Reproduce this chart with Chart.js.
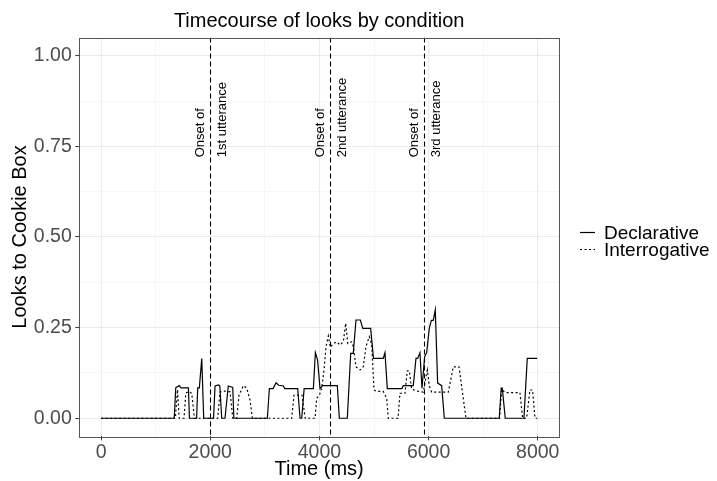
<!DOCTYPE html>
<html>
<head>
<meta charset="utf-8">
<script src="https://cdn.jsdelivr.net/npm/chart.js@4.4.1/dist/chart.umd.min.js"></script>
<style>
html, body { margin: 0; padding: 0; background: #fff; }
canvas { display: block; }
</style>
</head>
<body>
<canvas id="looksChart" width="717" height="481"></canvas>
<script>
// values
const declarativeTime = [0, 1340, 1368, 1430, 1465, 1600, 1618, 1750, 1770, 1800, 1844, 1880, 2060, 2088, 2150, 2175, 2210, 2270, 2330, 2412, 2432, 3046, 3083, 3150, 3205, 3254, 3340, 3364, 3602, 3645, 3676, 3720, 3889, 3926, 3966, 4011, 4060, 4328, 4365, 4511, 4573, 4620, 4670, 4750, 4795, 4939, 4990, 5170, 5201, 5244, 5510, 5537, 5720, 5769, 5800, 5842, 5879, 5928, 5965, 6013, 6050, 6086, 6123, 6166, 6240, 6288, 7295, 7330, 7350, 7405, 7747, 7808, 7990];
const declarativeLooks = [0, 0, 0.084, 0.09, 0.084, 0.084, 0, 0, 0.084, 0.084, 0.165, 0, 0, 0.089, 0.092, 0.089, 0, 0, 0.089, 0.085, 0, 0, 0.082, 0.082, 0.098, 0.091, 0.089, 0.082, 0.082, 0, 0, 0.082, 0.082, 0.181, 0.161, 0.082, 0.09, 0.09, 0, 0, 0.179, 0.179, 0.271, 0.271, 0.248, 0.248, 0.165, 0.165, 0.181, 0.082, 0.082, 0.09, 0.09, 0.165, 0.165, 0.181, 0.083, 0.17, 0.181, 0.248, 0.27, 0.27, 0.299, 0.097, 0.09, 0, 0, 0.083, 0.083, 0, 0, 0.165, 0.165];

const interrogativeTime = [0, 1360, 1400, 1430, 1520, 1551, 1599, 1661, 1709, 2136, 2180, 2260, 2363, 2412, 2485, 2527, 2607, 2668, 2729, 2771, 3492, 3535, 3680, 3740, 3920, 3950, 4000, 4042, 4084, 4121, 4163, 4200, 4255, 4316, 4377, 4438, 4481, 4520, 4591, 4622, 4670, 4744, 4804, 4853, 4914, 4957, 5000, 5049, 5170, 5232, 5262, 5440, 5476, 5568, 5610, 5647, 5690, 5800, 5903, 5977, 6013, 6056, 6361, 6453, 6557, 6685, 7300, 7340, 7399, 7674, 7723, 7796, 7857, 7906, 7949, 7990];
const interrogativeLooks = [0, 0, 0.079, 0, 0, 0.069, 0.074, 0.069, 0, 0, 0.073, 0.075, 0.073, 0, 0, 0.064, 0.09, 0.083, 0.05, 0, 0, 0.064, 0.064, 0, 0, 0.055, 0.064, 0.083, 0.133, 0.198, 0.227, 0.196, 0.206, 0.211, 0.202, 0.211, 0.262, 0.206, 0.211, 0.198, 0.142, 0.133, 0.142, 0.198, 0.225, 0.206, 0.078, 0.074, 0.074, 0.055, 0, 0, 0.069, 0.069, 0.131, 0.131, 0.08, 0.075, 0.072, 0.133, 0.09, 0.072, 0.072, 0.142, 0.142, 0, 0, 0.08, 0.071, 0.071, 0, 0, 0.078, 0.078, 0, 0];

const seriesNames = ['Declarative', 'Interrogative'];
const onsetTimes = [2000, 4200, 5925];
const onsetLabels = ['1st utterance', '2nd utterance', '3rd utterance'];

const xMajorTicks = [0, 2000, 4000, 6000, 8000];
const xMinorTicks = [1000, 3000, 5000, 7000];
const yMajorTicks = [0, 0.25, 0.5, 0.75, 1];
const yMinorTicks = [0.125, 0.375, 0.625, 0.875];

const FONT = '"Liberation Sans", Arial, Helvetica, sans-serif';

const toPoints = (xs, ys) => xs.map((x, i) => ({ x: x, y: ys[i] }));

// ggplot style 5% expansion of the data range
const allTimes = declarativeTime.concat(interrogativeTime);
const tMin = Math.min(...allTimes);
const tMax = Math.max(...allTimes);
const xPad = (tMax - tMin) * 0.05;
const yPad = 0.05;

const isMajor = (list, v) => list.some(m => Math.abs(m - v) < 1e-9);

const panelExtras = {
	id: 'panelExtras',
	afterDatasetsDraw(chart) {
		const { ctx, chartArea } = chart;
		const xs = chart.scales.x;
		const ys = chart.scales.y;

		// vertical onset lines
		ctx.save();
		ctx.beginPath();
		ctx.rect(chartArea.left, chartArea.top, chartArea.right - chartArea.left, chartArea.bottom - chartArea.top);
		ctx.clip();
		ctx.strokeStyle = '#000';
		ctx.lineWidth = 1.1;
		ctx.setLineDash([5, 3]);
		onsetTimes.forEach(t => {
			const px = Math.round(xs.getPixelForValue(t)) + 0.5;
			ctx.beginPath();
			ctx.moveTo(px, chartArea.top);
			ctx.lineTo(px, chartArea.bottom);
			ctx.stroke();
		});
		ctx.restore();

		// onset annotations
		ctx.save();
		ctx.fillStyle = '#000';
		ctx.font = '13px ' + FONT;
		ctx.textAlign = 'left';
		ctx.textBaseline = 'middle';
		const ty = ys.getPixelForValue(0.72);
		onsetTimes.forEach((t, i) => {
			const px = xs.getPixelForValue(t);
			[['Onset of', -10], [onsetLabels[i], 12]].forEach(([txt, dx]) => {
				ctx.save();
				ctx.translate(px + dx, ty);
				ctx.rotate(-Math.PI / 2);
				ctx.fillText(txt, 0, 0);
				ctx.restore();
			});
		});
		ctx.restore();

		// panel border
		ctx.save();
		ctx.strokeStyle = '#555';
		ctx.lineWidth = 1;
		ctx.strokeRect(Math.round(chartArea.left) + 0.5, Math.round(chartArea.top) + 0.5,
			Math.round(chartArea.right - chartArea.left), Math.round(chartArea.bottom - chartArea.top));
		ctx.restore();
	},
	afterDraw(chart) {
		const { ctx } = chart;
		const cy = chart.height / 2;
		ctx.save();
		ctx.font = '19px ' + FONT;
		ctx.textBaseline = 'middle';
		ctx.textAlign = 'left';
		chart.data.datasets.forEach((ds, i) => {
			const y = Math.round(cy - 9 + i * 17) + 0.5;
			ctx.strokeStyle = ds.borderColor;
			ctx.lineWidth = ds.borderWidth;
			ctx.setLineDash(ds.borderDash || []);
			ctx.beginPath();
			ctx.moveTo(580, y);
			ctx.lineTo(595, y);
			ctx.stroke();
			ctx.fillStyle = '#000';
			ctx.fillText(ds.label, 604, y + 1);
		});
		ctx.restore();
	}
};

const chart = new Chart(document.getElementById('looksChart').getContext('2d'), {
	type: 'scatter',
	data: {
		datasets: [{
			label: seriesNames[0],
			data: toPoints(declarativeTime, declarativeLooks),
			showLine: true,
			borderColor: '#000',
			borderWidth: 1.2,
			pointRadius: 0,
			tension: 0
		}, {
			label: seriesNames[1],
			data: toPoints(interrogativeTime, interrogativeLooks),
			showLine: true,
			borderColor: '#000',
			borderWidth: 1.2,
			borderDash: [2, 2.5],
			pointRadius: 0,
			tension: 0
		}]
	},
	options: {
		responsive: false,
		animation: false,
		devicePixelRatio: 1,
		layout: { padding: { left: 0, right: 158, top: 0, bottom: 0 } },
		plugins: {
			legend: { display: false },
			tooltip: { enabled: false },
			title: {
				display: true,
				text: 'Timecourse of looks by condition',
				fullSize: false,
				color: '#000',
				font: { family: FONT, size: 20, weight: 'normal', lineHeight: 1.2 },
				padding: { top: 9, bottom: 4.6 }
			}
		},
		scales: {
			x: {
				type: 'linear',
				min: tMin - xPad,
				max: tMax + xPad,
				afterBuildTicks: scale => {
					scale.ticks = xMajorTicks.concat(xMinorTicks).sort((a, b) => a - b).map(v => ({ value: v }));
				},
				afterFit: scale => { scale.height = 44.6; },
				border: { display: false },
				grid: {
					color: c => isMajor(xMajorTicks, c.tick.value) ? '#ebebeb' : '#f4f4f4',
					lineWidth: c => isMajor(xMajorTicks, c.tick.value) ? 1.1 : 0.8,
					tickColor: c => isMajor(xMajorTicks, c.tick.value) ? '#333' : 'rgba(0,0,0,0)',
					tickLength: 4,
					tickWidth: 1
				},
				ticks: {
					autoSkip: false,
					maxRotation: 0,
					padding: 1,
					color: '#4d4d4d',
					font: { family: FONT, size: 19.5 },
					callback: v => isMajor(xMajorTicks, v) ? String(v) : ''
				},
				title: {
					display: true,
					text: 'Time (ms)',
					color: '#000',
					font: { family: FONT, size: 20, lineHeight: 1 },
					padding: { top: 0, bottom: 2 }
				}
			},
			y: {
				type: 'linear',
				min: 0 - yPad,
				max: 1 + yPad,
				afterBuildTicks: scale => {
					scale.ticks = yMajorTicks.concat(yMinorTicks).sort((a, b) => a - b).map(v => ({ value: v }));
				},
				afterFit: scale => { scale.width = 79.3; },
				border: { display: false },
				grid: {
					color: c => isMajor(yMajorTicks, c.tick.value) ? '#ebebeb' : '#f4f4f4',
					lineWidth: c => isMajor(yMajorTicks, c.tick.value) ? 1.1 : 0.8,
					tickColor: c => isMajor(yMajorTicks, c.tick.value) ? '#333' : 'rgba(0,0,0,0)',
					tickLength: 4,
					tickWidth: 1
				},
				ticks: {
					autoSkip: false,
					padding: 3.5,
					color: '#4d4d4d',
					font: { family: FONT, size: 19.5 },
					callback: v => isMajor(yMajorTicks, v) ? v.toFixed(2) : ''
				},
				title: {
					display: true,
					text: 'Looks to Cookie Box',
					color: '#000',
					font: { family: FONT, size: 20, lineHeight: 1.2 },
					padding: { top: 8, bottom: 0 }
				}
			}
		}
	},
	plugins: [panelExtras]
});
</script>
</body>
</html>
